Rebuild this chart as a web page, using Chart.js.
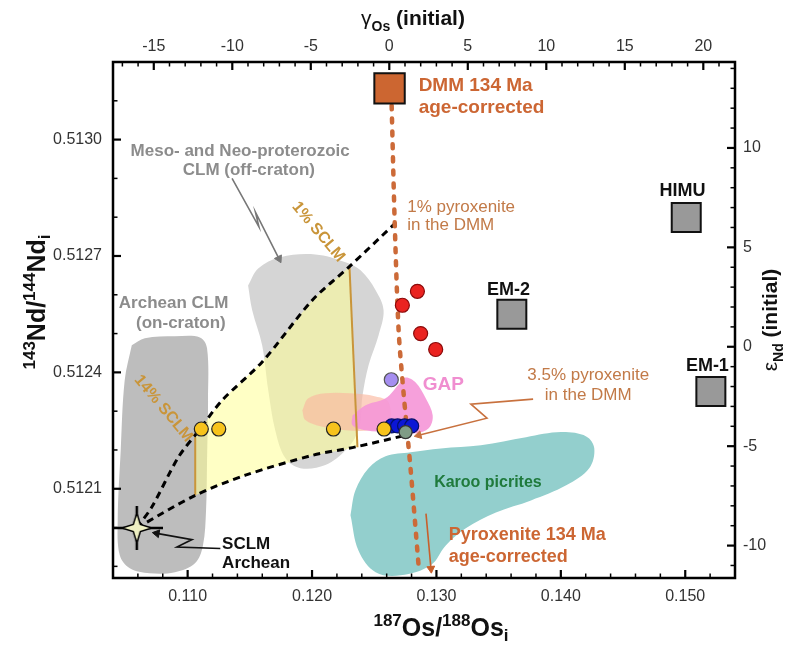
<!DOCTYPE html>
<html>
<head>
<meta charset="utf-8">
<script src="https://cdn.jsdelivr.net/npm/chart.js@4.4.1/dist/chart.umd.min.js"></script>
<style>
  html, body { margin: 0; padding: 0; background: #fff; }
  #wrap { width: 790px; height: 646px; }
</style>
</head>
<body>
<div id="wrap"><canvas id="chart" width="790" height="646"></canvas></div>
<script>
const FONT = 'Arial, "Liberation Sans", Helvetica, sans-serif';

// ----- Axes -----
const X_MIN = 0.104, X_MAX = 0.154;
const Y_MIN = 0.51187, Y_MAX = 0.5132;
const OS_REF = 0.12621;   // 187Os/188Os where gamma-Os = 0
const ND_CHUR = 0.512466; // 143Nd/144Nd where eps-Nd = 0 (134 Ma)

const xTicks = [0.110, 0.120, 0.130, 0.140, 0.150];
const yTicks = [0.5121, 0.5124, 0.5127, 0.5130];
const gammaTicks = [-15, -10, -5, 0, 5, 10, 15, 20];
const epsTicks = [-10, -5, 0, 5, 10];

// ----- Fields -----
const archeanX = [0.10551, 0.10656, 0.10898, 0.11099, 0.11156, 0.11164, 0.11156, 0.11148, 0.11123, 0.11059, 0.10898, 0.10696, 0.10535, 0.10454, 0.10438, 0.10462, 0.10494];
const archeanY = [0.512470, 0.512488, 0.512493, 0.512490, 0.512462, 0.512328, 0.512173, 0.512045, 0.511954, 0.511908, 0.511885, 0.511882, 0.511895, 0.511929, 0.512019, 0.512199, 0.512380];

const mesoX = [0.11486, 0.11567, 0.11744, 0.12027, 0.12269, 0.12390, 0.12511, 0.12575, 0.12535, 0.12454, 0.12406, 0.12373, 0.12269, 0.12107, 0.11906, 0.11785, 0.11704, 0.11648, 0.11599, 0.11519];
const mesoY = [0.512624, 0.512668, 0.512697, 0.512704, 0.512684, 0.512663, 0.512612, 0.512560, 0.512496, 0.512418, 0.512341, 0.512251, 0.512199, 0.512161, 0.512153, 0.512179, 0.512251, 0.512354, 0.512470, 0.512560];

const mixX = [0.11059, 0.11102, 0.11277, 0.11599, 0.12002, 0.12301, 0.12365, 0.12002, 0.11465, 0.11061];
const mixY = [0.512237, 0.512255, 0.512328, 0.512427, 0.512586, 0.512672, 0.512207, 0.512186, 0.512135, 0.512083];

const peachX = [0.11922, 0.11970, 0.12107, 0.12309, 0.12511, 0.12615, 0.12615, 0.12470, 0.12269, 0.12067, 0.11946];
const peachY = [0.512302, 0.512333, 0.512346, 0.512346, 0.512338, 0.512323, 0.512266, 0.512251, 0.512251, 0.512261, 0.512277];

const gapX = [0.12325, 0.12430, 0.12591, 0.12696, 0.12752, 0.12833, 0.12914, 0.12970, 0.12938, 0.12833, 0.12631, 0.12430, 0.12325];
const gapY = [0.512289, 0.512315, 0.512333, 0.512369, 0.512387, 0.512374, 0.512333, 0.512289, 0.512256, 0.512243, 0.512246, 0.512251, 0.512264];

const karooX = [0.12309, 0.12349, 0.12454, 0.12591, 0.12793, 0.13035, 0.13357, 0.13720, 0.14002, 0.14204, 0.14269, 0.14228, 0.14043, 0.13760, 0.13478, 0.13236, 0.13075, 0.12954, 0.12712, 0.12511, 0.12373];
const karooY = [0.512032, 0.512096, 0.512153, 0.512184, 0.512194, 0.512204, 0.512212, 0.512233, 0.512246, 0.512235, 0.512204, 0.512153, 0.512109, 0.512070, 0.512039, 0.511998, 0.511954, 0.511903, 0.511877, 0.511885, 0.511941];

// ----- Mixing lines -----
const upperX = [0.10591, 0.10712, 0.10927, 0.11102, 0.11277, 0.11599, 0.12002, 0.12298, 0.12674];
const upperY = [0.511999, 0.512053, 0.512182, 0.512255, 0.512328, 0.512427, 0.512586, 0.512672, 0.512786];
const lowerX = [0.10591, 0.11061, 0.11465, 0.12002, 0.12352, 0.12755];
const lowerY = [0.511999, 0.512083, 0.512135, 0.512186, 0.512208, 0.512238];
const dmmPathX = [0.12640, 0.12664, 0.12696, 0.12736, 0.12793, 0.12857];
const dmmPathY = [0.513088, 0.512792, 0.512508, 0.512346, 0.512148, 0.511900];
const sclm1X = [0.12301, 0.12365], sclm1Y = [0.512672, 0.512207];
const sclm14X = [0.11061, 0.11061], sclm14Y = [0.512233, 0.512083];

// ----- Samples and end-members -----
const redX = [0.12847, 0.12726, 0.12873, 0.12994];
const redY = [0.512609, 0.512573, 0.512500, 0.512459];
const yellowX = [0.11110, 0.11250, 0.12172, 0.12579];
const yellowY = [0.512254, 0.512254, 0.512254, 0.512254];
const blueX = [0.12640, 0.12688, 0.12744, 0.12801];
const blueY = [0.512262, 0.512262, 0.512262, 0.512262];
const purpleX = [0.12637], purpleY = [0.512381];
const mixPointX = [0.12752], mixPointY = [0.512246];
const starX = [0.10591], starY = [0.511999];
const dmmX = [0.12623], dmmY = [0.513132];
const oibX = [0.15008, 0.13606, 0.15206];   // HIMU, EM-2, EM-1
const oibY = [0.512799, 0.512550, 0.512351];

// ----- Pointer arrows -----
const mesoArrowX = [0.11357, 0.11573, 0.11545, 0.11734];
const mesoArrowY = [0.512900, 0.512775, 0.512813, 0.512693];
const pyxArrowX = [0.13777, 0.13277, 0.13406, 0.12857];
const pyxArrowY = [0.512331, 0.512318, 0.512282, 0.512238];
const sclmArrowX = [0.11263, 0.10914, 0.11035, 0.10752];
const sclmArrowY = [0.511946, 0.511950, 0.511969, 0.511985];
const karooArrowX = [0.12916, 0.12956];
const karooArrowY = [0.512036, 0.511894];

// ----- Text notes (data coordinates) -----
const BROWN = '#cc6633', LBROWN = '#c27a48', GOLD = '#c9953a', GREY = '#8c8c8c';
const notes = [
  { t: 'DMM 134 Ma', x: 0.12857, y: 0.513140, f: 'bold 19px', c: BROWN },
  { t: 'age-corrected', x: 0.12857, y: 0.513081, f: 'bold 19px', c: BROWN },
  { t: '1% pyroxenite', x: 0.12766, y: 0.512826, f: '17px', c: LBROWN },
  { t: 'in the DMM', x: 0.12766, y: 0.512779, f: '17px', c: LBROWN },
  { t: '3.5% pyroxenite', x: 0.14220, y: 0.512393, f: '17px', c: LBROWN, a: 'center' },
  { t: 'in the DMM', x: 0.14220, y: 0.512341, f: '17px', c: LBROWN, a: 'center' },
  { t: 'GAP', x: 0.12890, y: 0.512367, f: 'bold 19px', c: '#f08ed0' },
  { t: 'EM-2', x: 0.13579, y: 0.512613, f: 'bold 18px', c: '#111', a: 'center' },
  { t: 'HIMU', x: 0.14978, y: 0.512868, f: 'bold 18px', c: '#111', a: 'center' },
  { t: 'EM-1', x: 0.15178, y: 0.512416, f: 'bold 18px', c: '#111', a: 'center' },
  { t: 'Meso- and Neo-proterozoic', x: 0.11422, y: 0.512971, f: 'bold 17px', c: GREY, a: 'center' },
  { t: 'CLM (off-craton)', x: 0.11492, y: 0.512921, f: 'bold 17px', c: GREY, a: 'center' },
  { t: 'Archean CLM', x: 0.10887, y: 0.512577, f: 'bold 17px', c: GREY, a: 'center' },
  { t: '(on-craton)', x: 0.10946, y: 0.512526, f: 'bold 17px', c: GREY, a: 'center' },
  { t: '1% SCLM', x: 0.12051, y: 0.512762, f: 'bold 16px', c: GOLD, a: 'center', r: 50 },
  { t: '14% SCLM', x: 0.10806, y: 0.512307, f: 'bold 16px', c: GOLD, a: 'center', r: 50 },
  { t: 'SCLM', x: 0.11277, y: 0.511956, f: 'bold 17px', c: '#111' },
  { t: 'Archean', x: 0.11277, y: 0.511907, f: 'bold 17px', c: '#111' },
  { t: 'Karoo picrites', x: 0.13414, y: 0.512117, f: 'bold 16px', c: '#1f7a3c', a: 'center' },
  { t: 'Pyroxenite 134 Ma', x: 0.13099, y: 0.511980, f: 'bold 18px', c: BROWN },
  { t: 'age-corrected', x: 0.13099, y: 0.511924, f: 'bold 18px', c: BROWN },
];

const pts = (xs, ys) => xs.map((x, i) => ({ x, y: ys[i] }));
const closed = (xs, ys) => { const p = pts(xs, ys); p.push(p[0]); return p; };
const gamma = r => (r / OS_REF - 1) * 100;
const eps = r => (r / ND_CHUR - 1) * 1e4;

// star symbol for the Archean SCLM end-member
function starImage() {
  const c = document.createElement('canvas');
  c.width = 52; c.height = 44;
  const g = c.getContext('2d');
  const cx = 26, cy = 22;
  g.strokeStyle = '#000';
  g.lineWidth = 2.5;
  g.beginPath();
  g.moveTo(0, cy); g.lineTo(52, cy);
  g.moveTo(cx, 0); g.lineTo(cx, 44);
  g.stroke();
  g.beginPath();
  for (let i = 0; i < 8; i++) {
    const a = i * Math.PI / 4, rad = i % 2 ? 5 : 15;
    g.lineTo(cx + rad * Math.cos(a), cy + rad * Math.sin(a));
  }
  g.closePath();
  g.fillStyle = '#eef0c2';
  g.fill();
  g.lineWidth = 1.5;
  g.stroke();
  return c;
}

// arrow head rotation from last segment, through the scales
function headAngle(ctx) {
  const d = ctx.dataset.data, i = ctx.dataIndex;
  if (i === 0) return 0;
  const sx = ctx.chart.scales.x, sy = ctx.chart.scales.y;
  const dx = sx.getPixelForValue(d[i].x) - sx.getPixelForValue(d[i - 1].x);
  const dy = sy.getPixelForValue(d[i].y) - sy.getPixelForValue(d[i - 1].y);
  return Math.atan2(dx, -dy) * 180 / Math.PI;
}

const field = (data, color, order) => ({
  data, showLine: true, fill: 'shape', backgroundColor: color,
  borderColor: 'rgba(0,0,0,0)', borderWidth: 0, pointRadius: 0, tension: 0.35, order
});
const line = (data, color, width, dash, order, tension = 0.3, cap = 'butt') => ({
  data, showLine: true, fill: false, borderColor: color, borderWidth: width,
  borderDash: dash, borderCapStyle: cap, pointRadius: 0, tension, order
});
const arrow = (data, color, order) => ({
  data, showLine: true, fill: false, borderColor: color, borderWidth: 1.6, tension: 0,
  pointStyle: 'triangle', backgroundColor: color, borderDash: [],
  pointBorderColor: color, pointBorderWidth: 1,
  pointRadius: c => (c.dataIndex === c.dataset.data.length - 1 ? 4.5 : 0),
  pointRotation: headAngle, order
});
const dots = (data, fill, edge, radius, order, style = 'circle', bw = 1.2) => ({
  data, showLine: false, pointStyle: style, pointRadius: radius,
  backgroundColor: fill, borderColor: edge, borderWidth: bw, order
});

// ----- Plugins -----
const innerTicks = {
  id: 'innerTicks',
  afterDatasetsDraw(chart) {
    const { ctx, chartArea: a } = chart;
    const { x, x2, y, y2 } = chart.scales;
    const steps = (min, max, step) => {
      const out = [];
      for (let k = Math.ceil(min / step - 1e-6); k * step <= max + step * 1e-6; k++) out.push(k * step);
      return out;
    };
    const isMajor = (v, list, step) => list.some(m => Math.abs(m - v) < step * 0.1);
    const draw = (scale, major, step, side) => {
      steps(scale.min, scale.max, step).forEach(v => {
        const big = isMajor(v, major, step);
        const len = big ? 8 : 4.5;
        const p = scale.getPixelForValue(v);
        ctx.lineWidth = big ? 2.2 : 1.5;
        ctx.beginPath();
        if (side === 'bottom') { ctx.moveTo(p, a.bottom); ctx.lineTo(p, a.bottom - len); }
        if (side === 'top') { ctx.moveTo(p, a.top); ctx.lineTo(p, a.top + len); }
        if (side === 'left') { ctx.moveTo(a.left, p); ctx.lineTo(a.left + len, p); }
        if (side === 'right') { ctx.moveTo(a.right, p); ctx.lineTo(a.right - len, p); }
        ctx.stroke();
      });
    };
    ctx.save();
    ctx.strokeStyle = '#000';
    draw(x, xTicks, 0.002, 'bottom');
    draw(x2, gammaTicks, 1, 'top');
    draw(y, yTicks, 0.0001, 'left');
    draw(y2, epsTicks, 1, 'right');
    ctx.lineWidth = 2.5;
    ctx.strokeRect(a.left, a.top, a.right - a.left, a.bottom - a.top);
    ctx.restore();
  }
};

const notesPlugin = {
  id: 'notes',
  afterDatasetsDraw(chart) {
    const { ctx } = chart;
    const { x, y } = chart.scales;
    notes.forEach(n => {
      ctx.save();
      ctx.translate(x.getPixelForValue(n.x), y.getPixelForValue(n.y));
      if (n.r) ctx.rotate(n.r * Math.PI / 180);
      ctx.font = n.f + ' ' + FONT;
      ctx.fillStyle = n.c;
      ctx.textAlign = n.a || 'left';
      ctx.textBaseline = 'middle';
      ctx.fillText(n.t, 0, 0);
      ctx.restore();
    });
  }
};

// axis titles with super/subscripts
function richText(ctx, parts, cx, cy, rot) {
  ctx.save();
  ctx.translate(cx, cy);
  if (rot) ctx.rotate(rot);
  ctx.fillStyle = '#111';
  ctx.textBaseline = 'alphabetic';
  ctx.textAlign = 'left';
  let total = 0;
  parts.forEach(p => { ctx.font = p[1] + ' ' + FONT; total += ctx.measureText(p[0]).width; });
  let pos = -total / 2;
  parts.forEach(p => {
    ctx.font = p[1] + ' ' + FONT;
    ctx.fillText(p[0], pos, p[2]);
    pos += ctx.measureText(p[0]).width;
  });
  ctx.restore();
}

const titlesPlugin = {
  id: 'titles',
  afterDraw(chart) {
    const ctx = chart.ctx;
    richText(ctx, [['187', 'bold 17px', -10], ['Os/', 'bold 25px', 0], ['188', 'bold 17px', -10], ['Os', 'bold 25px', 0], ['i', 'bold 17px', 5]], 441, 636, 0);
    richText(ctx, [['143', 'bold 17px', -10], ['Nd/', 'bold 25px', 0], ['144', 'bold 17px', -10], ['Nd', 'bold 25px', 0], ['i', 'bold 17px', 5]], 45, 302, -Math.PI / 2);
    richText(ctx, [['\u03b3', '21px', 0], ['Os', 'bold 14px', 6], [' (initial)', 'bold 21px', 0]], 413, 25, 0);
    richText(ctx, [['\u03b5', '21px', 0], ['Nd', 'bold 14px', 6], [' (initial)', 'bold 21px', 0]], 777, 320, -Math.PI / 2);
  }
};

const tickFont = { size: 16, family: FONT };
const fixedTicks = list => axis => { axis.ticks = list.map(v => ({ value: v })); };

new Chart(document.getElementById('chart'), {
  type: 'scatter',
  data: {
    datasets: [
      dots(pts(yellowX, yellowY), '#f7c31c', '#222', 7, 1),
      dots(pts(mixPointX, mixPointY), '#7f9c86', '#333', 6.5, 2),
      dots(pts(blueX, blueY), '#0b16d6', '#03106a', 7, 3),
      dots(pts(purpleX, purpleY), '#a58ef0', '#555', 7, 4),
      dots(pts(redX, redY), '#ea2320', '#8a0a0a', 7, 5),
      dots(pts(starX, starY), '#eef0c2', '#000', 22, 6, starImage(), 0),
      dots(pts(dmmX, dmmY), '#cc6631', '#111', 21.5, 7, 'rect', 2),
      dots(pts(oibX, oibY), '#999999', '#111', 20.5, 7, 'rect', 2),
      arrow(pts(mesoArrowX, mesoArrowY), '#777777', 10),
      arrow(pts(pyxArrowX, pyxArrowY), '#c8713e', 10),
      arrow(pts(sclmArrowX, sclmArrowY), '#111111', 10),
      arrow(pts(karooArrowX, karooArrowY), '#c8602c', 10),
      line(pts(dmmPathX, dmmPathY), '#cc6a38', 4.5, [4, 9], 12, 0.3, 'round'),
      line(pts(upperX, upperY), '#000000', 3, [7, 5], 13),
      line(pts(lowerX, lowerY), '#000000', 3, [7, 5], 13),
      line(pts(sclm1X, sclm1Y), GOLD, 2, [], 14, 0),
      line(pts(sclm14X, sclm14Y), GOLD, 2, [], 14, 0),
      field(closed(gapX, gapY), 'rgba(245,150,215,0.9)', 20),
      field(closed(peachX, peachY), 'rgba(250,185,160,0.65)', 21),
      field(closed(karooX, karooY), '#93cfcd', 22),
      { ...field(closed(mixX, mixY), 'rgba(255,255,150,0.55)', 23), tension: 0 },
      field(closed(mesoX, mesoY), '#d5d5d5', 24),
      field(closed(archeanX, archeanY), '#bdbdbd', 25),
    ]
  },
  options: {
    responsive: false,
    animation: false,
    devicePixelRatio: 1,
    layout: { padding: 0 },
    plugins: { legend: { display: false }, tooltip: { enabled: false } },
    scales: {
      x: {
        type: 'linear', position: 'bottom', min: X_MIN, max: X_MAX,
        afterBuildTicks: fixedTicks(xTicks),
        afterFit: s => { s.height = 68; },
        grid: { display: false, drawTicks: false },
        border: { display: false },
        ticks: { font: tickFont, color: '#333', padding: 9, maxRotation: 0, autoSkip: false, callback: v => v.toFixed(3) }
      },
      x2: {
        type: 'linear', position: 'top', min: gamma(X_MIN), max: gamma(X_MAX),
        afterBuildTicks: fixedTicks(gammaTicks),
        afterFit: s => { s.height = 62; },
        grid: { display: false, drawTicks: false },
        border: { display: false },
        ticks: { font: tickFont, color: '#333', padding: 6, maxRotation: 0, autoSkip: false, callback: v => String(v) }
      },
      y: {
        type: 'linear', position: 'left', min: Y_MIN, max: Y_MAX,
        afterBuildTicks: fixedTicks(yTicks),
        afterFit: s => { s.width = 113; },
        grid: { display: false, drawTicks: false },
        border: { display: false },
        ticks: { font: tickFont, color: '#333', padding: 11, autoSkip: false, callback: v => v.toFixed(4) }
      },
      y2: {
        type: 'linear', position: 'right', min: eps(Y_MIN), max: eps(Y_MAX),
        afterBuildTicks: fixedTicks(epsTicks),
        afterFit: s => { s.width = 55; },
        grid: { display: false, drawTicks: false },
        border: { display: false },
        ticks: { font: tickFont, color: '#333', padding: 8, autoSkip: false, callback: v => String(v) }
      }
    }
  },
  plugins: [innerTicks, notesPlugin, titlesPlugin]
});
</script>
</body>
</html>
